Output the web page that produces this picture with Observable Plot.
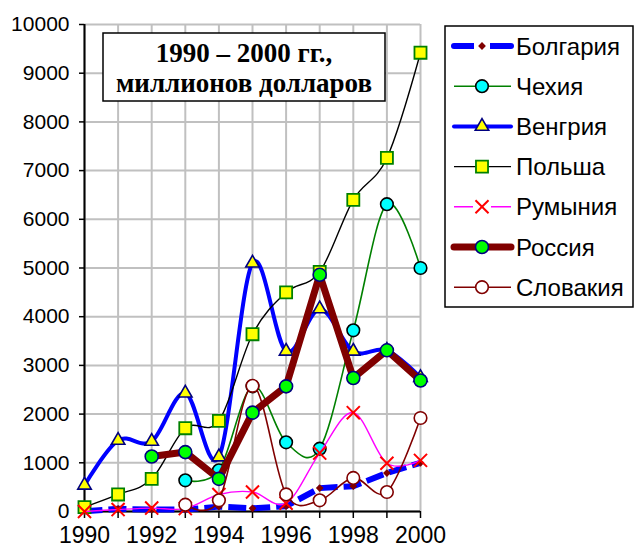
<!DOCTYPE html>
<html>
<head>
<meta charset="utf-8">
<script src="https://cdn.jsdelivr.net/npm/d3@7"></script>
<script src="https://cdn.jsdelivr.net/npm/@observablehq/plot@0.6"></script>
<style>
  html, body { margin: 0; padding: 0; background: #fff; }
  #chart { position: relative; width: 635px; height: 549px; }
</style>
</head>
<body>
<div id="chart"></div>
<script>
const years = [1990, 1991, 1992, 1993, 1994, 1995, 1996, 1997, 1998, 1999, 2000];
const yTicks = [0, 1000, 2000, 3000, 4000, 5000, 6000, 7000, 8000, 9000, 10000];
const xLabelYears = [1990, 1992, 1994, 1996, 1998, 2000];
const titleLines = ["1990 – 2000 гг.,", "миллионов долларов"];

const bulgaria = [5, 55, 40, 40, 100, 65, 110, 480, 520, 790, 1000];
const czech    = [null, null, null, 640, 845, 2570, 1420, 1290, 3720, 6310, 5000];
const hungary  = [540, 1460, 1440, 2430, 1120, 5100, 3290, 4160, 3290, 3310, 2750];
const poland   = [90, 350, 670, 1710, 1860, 3640, 4500, 4920, 6400, 7260, 9420];
const romania  = [0, 40, 70, 60, 350, 400, 170, 1200, 2030, 990, 1050];
const russia   = [null, null, 1130, 1220, 670, 2030, 2570, 4860, 2740, 3310, 2690];
const slovakia = [null, null, null, 140, 230, 2580, 350, 230, 690, 400, 1920];

const seriesNames = ["Болгария", "Чехия", "Венгрия", "Польша", "Румыния", "Россия", "Словакия"];

const series = [
  {name: seriesNames[0], values: bulgaria, line: {stroke: "#0000ff", strokeWidth: 6, strokeDasharray: "18,6", curve: "linear"},
   dot: {symbol: "diamond2", r: 3.5, fill: "#800000", stroke: "none"}},
  {name: seriesNames[1], values: czech, line: {stroke: "#008000", strokeWidth: 1.6, curve: "cardinal"},
   dot: {symbol: "circle", r: 6.3, fill: "#00ffff", stroke: "#000000", strokeWidth: 1.6}},
  {name: seriesNames[2], values: hungary, line: {stroke: "#0000ff", strokeWidth: 4, curve: "cardinal"},
   dot: {symbol: "triangle", r: 5, fill: "#ffff00", stroke: "#000080", strokeWidth: 1.6}},
  {name: seriesNames[3], values: poland, line: {stroke: "#000000", strokeWidth: 1.4, curve: "cardinal"},
   dot: {symbol: "square", r: 6.8, fill: "#ffff00", stroke: "#008000", strokeWidth: 1.8}},
  {name: seriesNames[4], values: romania, line: {stroke: "#ff00ff", strokeWidth: 1.4, curve: "cardinal"},
   dot: {symbol: "times", r: 6, fill: "none", stroke: "#ff0000", strokeWidth: 2}},
  {name: seriesNames[5], values: russia, line: {stroke: "#800000", strokeWidth: 7, curve: "linear"},
   dot: {symbol: "circle", r: 6.5, fill: "#00ff00", stroke: "#000080", strokeWidth: 1.6}},
  {name: seriesNames[6], values: slovakia, line: {stroke: "#800000", strokeWidth: 1.6, curve: "cardinal"},
   dot: {symbol: "circle", r: 6.3, fill: "#ffffff", stroke: "#800000", strokeWidth: 1.6}}
];

const rows = s => years.map((yr, i) => ({year: yr, value: s.values[i]})).filter(d => d.value != null);

const seriesMarks = series.flatMap(s => [
  Plot.line(rows(s), {x: "year", y: "value", strokeLinejoin: "round", strokeLinecap: "butt", ...s.line}),
  Plot.dot(rows(s), {x: "year", y: "value", ...s.dot})
]);

const plot = Plot.plot({
  width: 635,
  height: 549,
  marginLeft: 84,
  marginRight: 215,
  marginTop: 24,
  marginBottom: 38,
  style: {fontFamily: "Liberation Sans, Arial, sans-serif", fontSize: "21px", color: "#000", background: "#fff", overflow: "visible"},
  x: {domain: [1990, 2000]},
  y: {domain: [0, 10000]},
  marks: [
    Plot.gridX(years, {stroke: "#c0c0c0", strokeOpacity: 1, strokeWidth: 2}),
    Plot.gridY(yTicks, {stroke: "#c0c0c0", strokeOpacity: 1, strokeWidth: 2}),
    Plot.axisY(yTicks, {tickSize: 5, tickPadding: 10, fontSize: 21, tickFormat: d => String(d), label: null, stroke: "#000", strokeWidth: 1.5}),
    Plot.axisX(years, {tickSize: 7, tickFormat: () => "", label: null, stroke: "#000", strokeWidth: 1.5}),
    Plot.axisX(xLabelYears, {tickSize: 0, tickPadding: 15, fontSize: 23, tickFormat: d => String(d), label: null}),
    Plot.ruleX([1990], {stroke: "#000", strokeWidth: 2}),
    Plot.ruleY([0], {stroke: "#000", strokeWidth: 2}),
    ...seriesMarks
  ]
});

document.getElementById("chart").appendChild(plot);

// Title box and legend (annotation layer on the same SVG)
const svg = d3.select(plot);

const tg = svg.append("g");
tg.append("rect").attr("x", 103).attr("y", 33).attr("width", 282).attr("height", 68)
  .attr("fill", "#fff").attr("stroke", "#000").attr("stroke-width", 1.5);
tg.selectAll("text").data(titleLines).join("text")
  .attr("x", 244).attr("y", (d, i) => 62 + i * 30)
  .attr("text-anchor", "middle")
  .attr("font-family", "Liberation Serif, Times New Roman, serif")
  .attr("font-weight", "bold").attr("font-size", 27)
  .attr("fill", "#000")
  .text(d => d);

const lg = svg.append("g");
lg.append("rect").attr("x", 445).attr("y", 26).attr("width", 188).attr("height", 281)
  .attr("fill", "#fff").attr("stroke", "#000").attr("stroke-width", 1.5);

const symMap = {circle: d3.symbolCircle, triangle: d3.symbolTriangle, square: d3.symbolSquare, times: d3.symbolTimes, diamond2: d3.symbolDiamond2};
series.forEach((s, i) => {
  const cy = 46 + i * 40.2;
  const g = lg.append("g");
  g.append("line").attr("x1", 454).attr("x2", 511).attr("y1", cy).attr("y2", cy)
    .attr("stroke", s.line.stroke).attr("stroke-width", s.line.strokeWidth)
    .attr("stroke-linecap", s.line.strokeWidth > 3 ? "round" : "butt");
  if (s.line.strokeDasharray) {
    g.append("rect").attr("x", 474).attr("y", cy - 5).attr("width", 16).attr("height", 10).attr("fill", "#fff");
  }
  if (s.name === seriesNames[4]) {
    g.append("rect").attr("x", 473).attr("y", cy - 9).attr("width", 18).attr("height", 18).attr("fill", "#fff");
  }
  const sym = d3.symbol(symMap[s.dot.symbol], Math.PI * s.dot.r * s.dot.r);
  g.append("path").attr("d", sym()).attr("transform", `translate(482,${cy})`)
    .attr("fill", s.dot.fill).attr("stroke", s.dot.stroke).attr("stroke-width", s.dot.strokeWidth || 0);
  g.append("text").attr("x", 516).attr("y", cy).attr("dy", "0.36em")
    .attr("text-anchor", "start")
    .attr("font-family", "Liberation Sans, Arial, sans-serif").attr("font-size", 24)
    .attr("fill", "#000").text(s.name);
});
</script>
</body>
</html>
